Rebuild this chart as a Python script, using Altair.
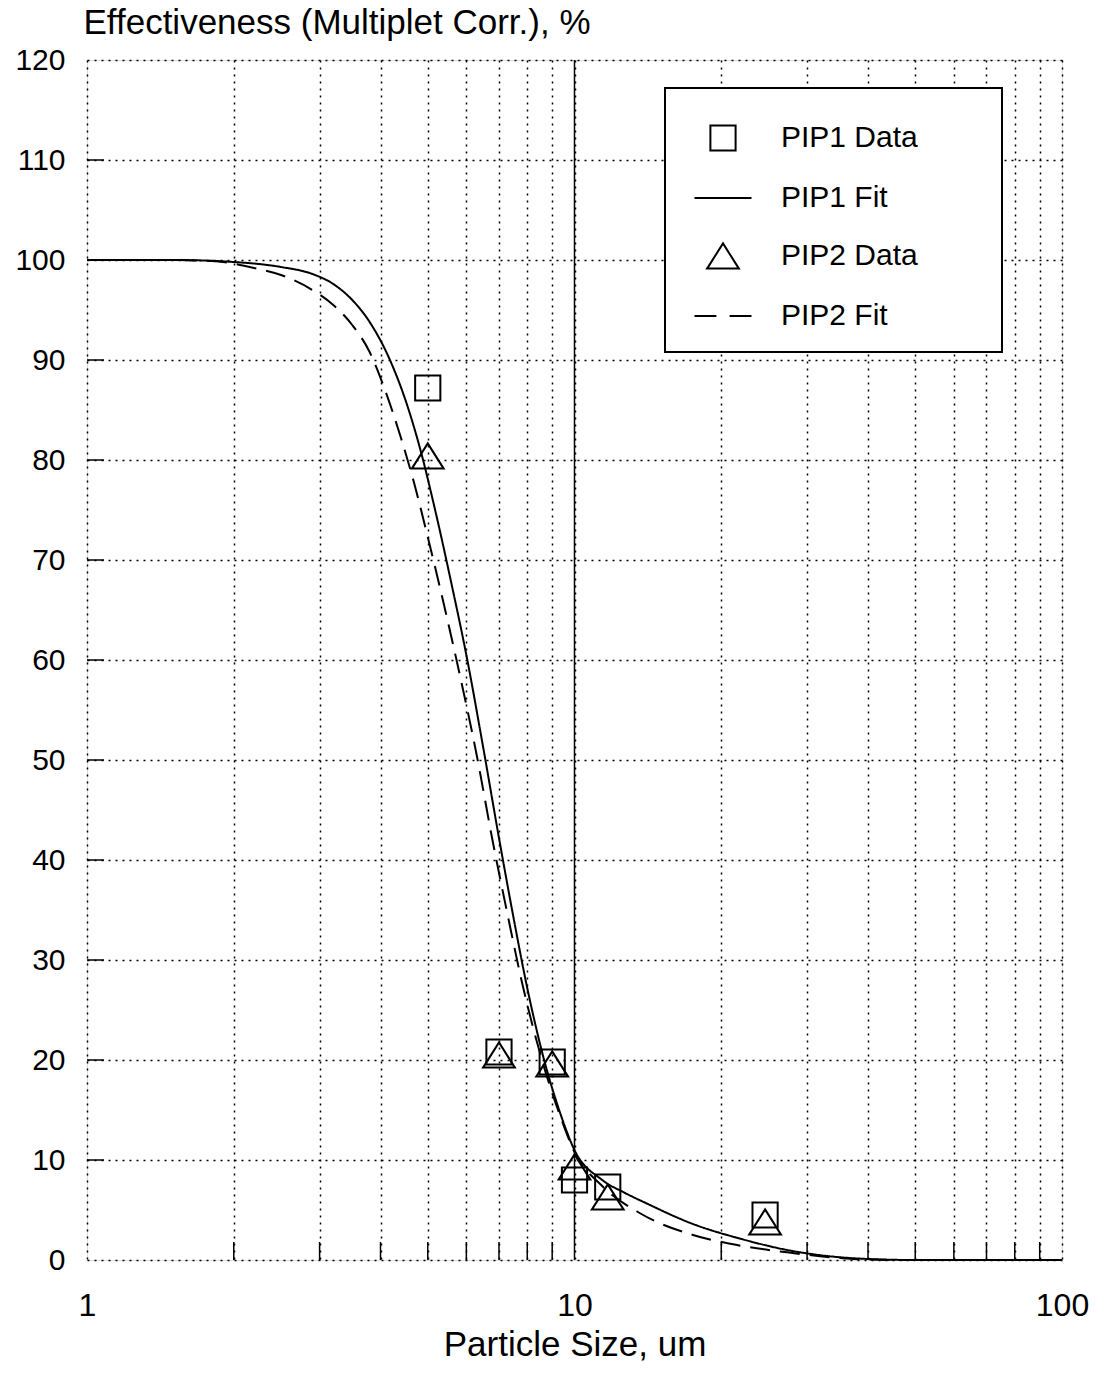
import altair as alt
import pandas as pd

# ---------------- data ----------------
pip1_x = [5, 7, 9, 10, 11.7, 24.6]
pip1_y = [87.2, 20.8, 19.8, 8.0, 7.3, 4.5]
pip2_x = [5, 7, 9, 10, 11.7, 24.6]
pip2_y = [80.4, 20.5, 19.6, 9.3, 6.3, 3.8]

fit1_x = [1, 1.5, 2, 2.5, 2.9, 3.2, 3.5, 3.8, 4.2, 4.5, 4.8, 5.2, 5.6, 6.0, 6.5,
          7.0, 7.5, 8.0, 8.6, 9.3, 10, 11.4, 12.7, 14, 17.5, 22, 28, 33, 40, 50, 100]
fit1_y = [100, 100, 99.8, 99.3, 98.6, 97.6, 96.0, 93.8, 89.8, 86.0, 81.5, 74.6, 67.5,
          60.5, 51.2, 42.2, 34.2, 27.2, 20.6, 15.0, 11.0, 8.0, 6.7, 5.7, 3.6, 2.1,
          0.9, 0.4, 0.1, 0, 0]

fit2_x = [1, 1.5, 1.8, 2.2, 2.5, 2.9, 3.2, 3.5, 3.8, 4.1, 4.4, 4.7, 5.0, 5.4, 5.8,
          6.3, 6.8, 7.3, 7.8, 8.6, 9.3, 10, 11.4, 13.6, 17.5, 21, 28, 35, 45, 100]
fit2_y = [100, 100, 99.9, 99.2, 98.5, 97.0, 95.5, 93.5, 90.8, 86.8, 82.3, 77.5, 72.3,
          65.5, 58.8, 50.5, 41.8, 34.4, 27.8, 19.8, 14.7, 10.8, 7.4, 4.7, 2.5, 1.6,
          0.7, 0.2, 0, 0]

x_grid_values = [1, 2, 3, 4, 5, 6, 7, 8, 9, 10, 20, 30, 40, 50, 60, 70, 80, 90, 100]
x_minor_ticks = [2, 3, 4, 5, 6, 7, 8, 9, 20, 30, 40, 50, 60, 70, 80, 90]
y_values = [0, 10, 20, 30, 40, 50, 60, 70, 80, 90, 100, 110, 120]
y_minor_ticks = [10, 20, 30, 40, 50, 60, 70, 80, 90, 100, 110]
major_x_lines = [10]

series_names = ["PIP1 Data", "PIP1 Fit", "PIP2 Data", "PIP2 Fit"]

# ---------------- tables ----------------
pts = pd.DataFrame(
    {"x": pip1_x + pip2_x,
     "y": pip1_y + pip2_y,
     "series": ["PIP1 Data"] * len(pip1_x) + ["PIP2 Data"] * len(pip2_x)}
)
fits = pd.DataFrame(
    {"x": fit1_x + fit2_x,
     "y": fit1_y + fit2_y,
     "series": ["PIP1 Fit"] * len(fit1_x) + ["PIP2 Fit"] * len(fit2_x)}
)
xticks_df = pd.DataFrame({"x": x_minor_ticks})
yticks_df = pd.DataFrame({"y": y_minor_ticks})
major_df = pd.DataFrame({"x": major_x_lines})
legend_box_df = pd.DataFrame({"box": ["legend"]})

W, H = 975, 1200
FONT = "Liberation Sans"

SX = alt.Scale(type="log", domain=[1, 100], nice=False)
SY = alt.Scale(domain=[0, 120], nice=False, zero=False)

AX = alt.Axis(
    values=x_grid_values,
    labelExpr="datum.value == 1 || datum.value == 10 || datum.value == 100 ? format(datum.value, 'd') : ''",
    ticks=False, tickSize=0, domain=False,
    grid=True, gridColor="black", gridDash=[2, 5], gridWidth=1.5, gridOpacity=1,
    labelFont=FONT, labelFontSize=32, labelColor="black", labelPadding=30,
    labelFlush=False, labelOverlap=False,
    title="Particle Size, um", titleFont=FONT, titleFontSize=35,
    titleFontWeight="normal", titleColor="black",
    titleX=W / 2, titleY=95, titleAlign="center", titleBaseline="alphabetic",
)
AY = alt.Axis(
    values=y_values,
    ticks=False, tickSize=0, domain=False,
    grid=True, gridColor="black", gridDash=[2, 5], gridWidth=1.5, gridOpacity=1,
    labelFont=FONT, labelFontSize=30, labelColor="black", labelPadding=22,
    labelFlush=False, labelOverlap=False,
    title="Effectiveness (Multiplet Corr.), %", titleFont=FONT, titleFontSize=35,
    titleFontWeight="normal", titleColor="black", titleAngle=0,
    titleX=-4, titleY=-27, titleAlign="left", titleBaseline="alphabetic",
)

shape_range = [
    "M-0.42,-0.42L0.42,-0.42L0.42,0.42L-0.42,0.42Z",
    "M-0.95,0L0.95,0",
    "M0,-0.42L0.53,0.42L-0.53,0.42Z",
    "M-0.95,0L-0.22,0M0.22,0L0.95,0",
]

base_x = alt.X("x:Q", scale=SX, axis=AX)
base_y = alt.Y("y:Q", scale=SY, axis=AY)

grid10 = alt.Chart(major_df).mark_rule(color="black", strokeWidth=1.5).encode(
    x=base_x
)

# white framed box behind the legend entries (covers the grid like the original)
legend_box = alt.Chart(legend_box_df).mark_rect(
    fill="white", stroke="black", strokeWidth=2
).encode(
    x=alt.value(578), x2=alt.value(915), y=alt.value(28), y2=alt.value(292)
)

fit_lines = alt.Chart(fits).mark_line(
    color="black", strokeWidth=2, interpolate="monotone"
).encode(
    x=base_x,
    y=base_y,
    detail="series:N",
    strokeDash=alt.StrokeDash(
        "series:N",
        scale=alt.Scale(domain=["PIP1 Fit", "PIP2 Fit"], range=[[1, 0], [20, 10]]),
        legend=None,
    ),
)

points = alt.Chart(pts).mark_point(
    filled=False, size=3600, strokeWidth=2, color="black", opacity=1
).encode(
    x=base_x,
    y=base_y,
    shape=alt.Shape(
        "series:N",
        scale=alt.Scale(domain=series_names, range=shape_range),
        legend=alt.Legend(
            title=None, orient="none", legendX=578, legendY=28,
            symbolSize=3600, symbolStrokeWidth=2, symbolStrokeColor="black",
            symbolOffset=8, labelOffset=27, rowPadding=12,
            labelFont=FONT, labelFontSize=30, labelColor="black",
            labelLimit=400,
            padding=19, fillColor="transparent", strokeColor="transparent",
        ),
    ),
)

xticks = alt.Chart(xticks_df).mark_rule(color="black", strokeWidth=1.5).encode(
    x=base_x, y=alt.value(H), y2=alt.value(H - 18)
)
yticks = alt.Chart(yticks_df).mark_rule(color="black", strokeWidth=1.5).encode(
    y=base_y, x=alt.value(0), x2=alt.value(17)
)

chart = alt.layer(grid10, xticks, yticks, legend_box, fit_lines, points).properties(
    width=W, height=H,
    padding={"left": 87, "top": 60, "right": 41, "bottom": 120},
    autosize=alt.AutoSizeParams(type="none"),
    background="white",
).configure_view(
    stroke="black", strokeWidth=2
).configure(font=FONT)

chart.save("out.html", embed_options={"renderer": "svg", "actions": False})
